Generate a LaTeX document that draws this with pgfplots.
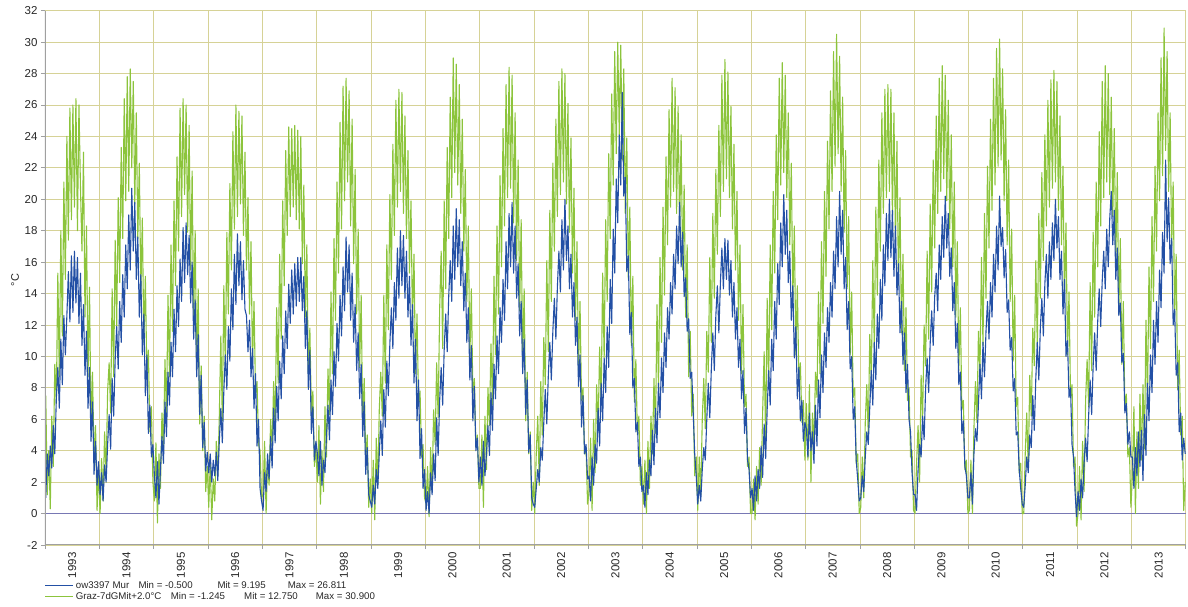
\documentclass[border=0pt]{standalone}
\usepackage{fontspec}
\setmainfont{Liberation Sans}
\usepackage{pgfplots}
\pgfplotsset{compat=1.18}
\definecolor{gridc}{RGB}{214,210,150}
\definecolor{serblue}{RGB}{35,80,165}
\definecolor{sergreen}{RGB}{140,196,60}
\definecolor{zeroc}{RGB}{120,120,180}
\definecolor{axc}{RGB}{160,160,160}
\definecolor{txt}{RGB}{40,40,40}
\begin{document}
\begin{tikzpicture}
\path (-45pt,-62pt) rectangle (1143pt,545pt);
\begin{axis}[
  at={(0pt,0pt)}, anchor=south west,
  scale only axis, width=1141pt, height=534.3pt,
  xmin=1993, xmax=2014, ymin=-2, ymax=32,
  xtick={1993,...,2014},
  x tick label as interval,
  xticklabels={1993,1994,1995,1996,1997,1998,1999,2000,2001,2002,2003,2004,2005,2006,2007,2008,2009,2010,2011,2012,2013},
  ytick={-2,0,...,32},
  grid=major, grid style={gridc, line width=0.8pt},
  axis line style={draw=none},
  tick align=outside, major tick length=4pt,
  tick style={axc, line width=0.8pt},
  xtick pos=bottom, ytick pos=left,
  ticklabel style={font=\fontsize{11.5}{13}\selectfont, text=txt},
  xticklabel style={rotate=90, anchor=east},
  /pgf/number format/assume math mode=true,
]
\draw[zeroc, line width=0.8pt] (axis cs:1993,0) -- (axis cs:2014,0);
\addplot[sergreen, line width=1.1pt, line join=round, mark=none] table[header=false, row sep=\\, x expr={1993+(\coordindex+0.5)/36}, y index=0] {
7.5\\ 1.2\\ 4.0\\ 0.3\\ 6.2\\ 3.0\\ 9.5\\ 7.0\\ 15.3\\ 8.7\\ 18.0\\ 11.3\\ 21.1\\ 14.9\\ 24.0\\ 17.4\\ 25.8\\ 18.7\\ 26.0\\ 19.5\\ 26.4\\ 18.0\\ 26.0\\ 20.8\\ 16.7\\ 23.0\\ 12.5\\ 18.3\\ 8.7\\ 14.4\\ 5.3\\ 9.0\\ 3.2\\ 5.6\\ 0.2\\ 2.8\\
0.0\\ 3.5\\ 0.8\\ 5.2\\ 2.6\\ 7.8\\ 9.6\\ 6.4\\ 14.3\\ 8.7\\ 17.4\\ 11.9\\ 20.1\\ 14.7\\ 23.3\\ 17.5\\ 26.4\\ 19.9\\ 27.8\\ 20.5\\ 28.3\\ 22.0\\ 27.5\\ 19.7\\ 25.5\\ 17.5\\ 22.3\\ 14.1\\ 18.8\\ 10.9\\ 15.1\\ 8.8\\ 10.4\\ 5.2\\ 6.8\\ 2.0\\
0.8\\ 4.5\\ -0.6\\ 3.8\\ 1.6\\ 6.4\\ 4.2\\ 9.8\\ 6.1\\ 13.9\\ 8.7\\ 17.1\\ 11.6\\ 19.9\\ 14.5\\ 22.7\\ 16.7\\ 25.8\\ 18.9\\ 26.4\\ 20.3\\ 26.0\\ 17.9\\ 24.7\\ 15.5\\ 21.8\\ 12.3\\ 18.0\\ 9.1\\ 14.3\\ 5.7\\ 9.4\\ 4.0\\ 6.2\\ 1.4\\ 3.0\\
0.4\\ 3.2\\ -0.4\\ 2.2\\ 0.8\\ 4.6\\ 2.4\\ 6.2\\ 11.3\\ 5.9\\ 14.5\\ 9.3\\ 17.9\\ 12.7\\ 21.0\\ 15.5\\ 24.3\\ 18.1\\ 26.0\\ 18.9\\ 25.6\\ 19.7\\ 25.3\\ 17.7\\ 23.0\\ 15.5\\ 20.1\\ 12.7\\ 17.3\\ 9.5\\ 13.5\\ 7.6\\ 8.4\\ 4.4\\ 4.0\\ 1.0\\
1.2\\ 4.6\\ 0.0\\ 3.4\\ 1.8\\ 6.0\\ 4.2\\ 8.4\\ 5.5\\ 13.1\\ 8.3\\ 16.5\\ 11.1\\ 19.9\\ 14.5\\ 23.1\\ 17.7\\ 24.6\\ 18.9\\ 24.5\\ 19.5\\ 24.7\\ 18.7\\ 24.4\\ 18.1\\ 24.0\\ 15.9\\ 20.9\\ 12.5\\ 17.1\\ 8.7\\ 11.8\\ 6.4\\ 7.8\\ 3.0\\ 4.2\\
2.0\\ 5.6\\ 0.6\\ 4.0\\ 1.4\\ 6.8\\ 3.6\\ 9.2\\ 6.3\\ 14.1\\ 8.9\\ 17.5\\ 12.3\\ 21.1\\ 15.3\\ 24.9\\ 18.1\\ 27.2\\ 19.9\\ 27.7\\ 21.1\\ 26.9\\ 18.3\\ 25.1\\ 15.9\\ 21.9\\ 12.7\\ 18.1\\ 9.3\\ 13.9\\ 5.5\\ 8.6\\ 3.4\\ 5.0\\ 0.4\\ 2.2\\
0.0\\ 3.4\\ -0.4\\ 4.8\\ 1.8\\ 6.6\\ 9.0\\ 6.2\\ 13.9\\ 8.3\\ 17.1\\ 11.7\\ 20.3\\ 14.9\\ 23.5\\ 17.7\\ 26.3\\ 19.5\\ 27.0\\ 20.5\\ 26.8\\ 19.1\\ 25.3\\ 17.5\\ 23.1\\ 15.3\\ 19.9\\ 12.1\\ 16.5\\ 8.9\\ 12.7\\ 7.0\\ 7.8\\ 3.6\\ 4.4\\ 1.0\\
0.6\\ 3.0\\ -0.2\\ 4.2\\ 1.4\\ 6.6\\ 4.4\\ 9.6\\ 6.1\\ 13.0\\ 16.7\\ 10.5\\ 19.9\\ 14.3\\ 23.3\\ 17.5\\ 26.5\\ 20.1\\ 29.0\\ 21.7\\ 28.6\\ 20.9\\ 27.3\\ 19.1\\ 25.1\\ 16.7\\ 21.9\\ 13.5\\ 18.3\\ 9.9\\ 14.3\\ 7.6\\ 8.6\\ 4.2\\ 5.0\\ 1.6\\
1.6\\ 5.0\\ 0.4\\ 6.2\\ 2.8\\ 8.0\\ 5.6\\ 10.8\\ 6.9\\ 15.1\\ 10.1\\ 18.3\\ 12.7\\ 21.5\\ 15.7\\ 24.5\\ 18.3\\ 27.3\\ 20.1\\ 28.4\\ 20.7\\ 27.9\\ 18.5\\ 25.5\\ 16.1\\ 22.5\\ 12.9\\ 18.7\\ 9.5\\ 14.3\\ 5.9\\ 9.0\\ 3.8\\ 5.2\\ 0.2\\ 2.0\\
0.0\\ 3.8\\ 6.2\\ 1.8\\ 8.4\\ 5.0\\ 11.2\\ 8.2\\ 16.1\\ 10.3\\ 19.3\\ 13.5\\ 22.3\\ 16.7\\ 25.1\\ 18.9\\ 27.5\\ 20.3\\ 28.3\\ 21.1\\ 28.0\\ 19.7\\ 26.1\\ 17.9\\ 23.9\\ 15.3\\ 20.7\\ 12.3\\ 17.3\\ 9.1\\ 13.5\\ 7.2\\ 8.0\\ 3.8\\ 4.2\\ 0.6\\
1.4\\ 4.8\\ 0.2\\ 6.0\\ 2.6\\ 8.2\\ 5.4\\ 10.6\\ 7.1\\ 15.3\\ 9.9\\ 18.7\\ 13.5\\ 22.9\\ 17.5\\ 26.7\\ 20.9\\ 29.4\\ 22.9\\ 30.0\\ 24.1\\ 29.8\\ 22.5\\ 28.3\\ 19.1\\ 23.9\\ 14.9\\ 19.5\\ 10.7\\ 15.1\\ 7.1\\ 9.8\\ 5.0\\ 6.2\\ 1.8\\ 3.0\\
0.6\\ 3.4\\ 0.0\\ 4.6\\ 1.6\\ 6.2\\ 3.8\\ 8.6\\ 5.1\\ 13.3\\ 7.9\\ 16.3\\ 10.9\\ 19.5\\ 13.9\\ 22.7\\ 17.1\\ 25.7\\ 19.5\\ 27.7\\ 20.5\\ 27.1\\ 19.1\\ 25.9\\ 17.9\\ 24.1\\ 15.5\\ 20.9\\ 12.5\\ 17.1\\ 8.7\\ 11.6\\ 6.2\\ 7.6\\ 2.4\\ 3.6\\
0.2\\ 3.6\\ 1.2\\ 6.0\\ 8.6\\ 5.4\\ 11.6\\ 9.0\\ 16.3\\ 10.9\\ 19.1\\ 13.7\\ 21.9\\ 16.5\\ 24.7\\ 18.9\\ 27.9\\ 20.5\\ 28.9\\ 21.3\\ 28.1\\ 20.1\\ 25.9\\ 18.1\\ 23.5\\ 15.5\\ 20.5\\ 12.3\\ 17.1\\ 8.9\\ 13.3\\ 6.8\\ 7.6\\ 3.0\\ 3.6\\ 0.0\\
0.0\\ 2.2\\ -0.4\\ 3.0\\ 0.6\\ 4.2\\ 1.8\\ 6.4\\ 10.3\\ 4.5\\ 13.7\\ 8.1\\ 17.1\\ 11.7\\ 20.5\\ 15.3\\ 24.1\\ 18.7\\ 27.7\\ 20.9\\ 28.7\\ 21.7\\ 27.9\\ 20.1\\ 25.5\\ 17.1\\ 22.3\\ 13.5\\ 18.3\\ 10.1\\ 14.5\\ 8.4\\ 9.6\\ 5.8\\ 7.2\\ 3.4\\
7.0\\ 3.4\\ 8.2\\ 2.0\\ 6.4\\ 4.2\\ 9.0\\ 7.4\\ 14.1\\ 8.9\\ 17.3\\ 12.1\\ 20.5\\ 15.1\\ 23.7\\ 18.1\\ 26.9\\ 20.5\\ 29.4\\ 22.1\\ 30.5\\ 22.9\\ 29.1\\ 20.5\\ 26.5\\ 17.9\\ 23.1\\ 14.3\\ 18.9\\ 10.1\\ 14.1\\ 7.4\\ 8.0\\ 3.2\\ 3.8\\ 0.0\\
0.4\\ 3.6\\ 1.0\\ 5.8\\ 8.2\\ 5.0\\ 11.4\\ 8.6\\ 16.1\\ 10.5\\ 19.5\\ 13.9\\ 22.5\\ 16.7\\ 25.5\\ 19.1\\ 27.0\\ 20.1\\ 27.3\\ 20.5\\ 27.0\\ 18.9\\ 25.5\\ 17.3\\ 23.7\\ 14.5\\ 20.1\\ 11.5\\ 16.5\\ 9.1\\ 13.1\\ 7.2\\ 8.0\\ 3.6\\ 4.0\\ 0.2\\
0.0\\ 3.2\\ 5.6\\ 2.0\\ 8.8\\ 6.0\\ 12.0\\ 9.4\\ 16.7\\ 11.1\\ 19.7\\ 14.1\\ 22.5\\ 16.9\\ 25.3\\ 19.1\\ 27.7\\ 20.5\\ 28.5\\ 21.3\\ 27.9\\ 19.9\\ 26.3\\ 18.1\\ 24.1\\ 15.7\\ 21.1\\ 12.5\\ 17.3\\ 9.1\\ 13.1\\ 6.6\\ 7.2\\ 2.8\\ 3.4\\ 0.0\\
0.2\\ 3.4\\ 0.0\\ 5.4\\ 8.4\\ 5.8\\ 11.6\\ 9.0\\ 16.3\\ 10.7\\ 19.1\\ 13.7\\ 22.1\\ 16.9\\ 25.1\\ 19.3\\ 27.7\\ 20.9\\ 29.6\\ 22.1\\ 30.2\\ 22.5\\ 28.3\\ 19.9\\ 25.7\\ 17.1\\ 22.5\\ 13.5\\ 18.1\\ 9.7\\ 13.9\\ 6.8\\ 7.4\\ 2.6\\ 3.2\\ 0.0\\
0.0\\ 3.8\\ 6.4\\ 2.8\\ 8.8\\ 6.2\\ 11.8\\ 9.4\\ 16.1\\ 10.5\\ 19.1\\ 13.7\\ 21.7\\ 16.1\\ 24.1\\ 18.3\\ 26.3\\ 19.5\\ 27.6\\ 20.7\\ 28.2\\ 21.1\\ 27.5\\ 19.3\\ 25.3\\ 17.1\\ 22.1\\ 13.5\\ 18.5\\ 10.1\\ 14.1\\ 7.4\\ 8.2\\ 3.0\\ 3.6\\ -0.8\\
0.0\\ 3.0\\ -0.4\\ 4.6\\ 1.4\\ 7.2\\ 9.8\\ 6.8\\ 14.7\\ 9.1\\ 17.9\\ 12.5\\ 21.1\\ 15.7\\ 24.3\\ 18.3\\ 27.5\\ 20.1\\ 28.5\\ 21.1\\ 28.0\\ 20.3\\ 26.5\\ 18.9\\ 24.5\\ 16.1\\ 21.7\\ 12.7\\ 17.5\\ 9.5\\ 13.5\\ 6.8\\ 7.6\\ 3.6\\ 4.2\\ 0.4\\
2.4\\ 6.8\\ 0.0\\ 5.2\\ 1.6\\ 7.6\\ 3.4\\ 8.2\\ 4.1\\ 12.3\\ 7.1\\ 15.7\\ 10.5\\ 18.9\\ 13.5\\ 22.1\\ 16.7\\ 25.5\\ 19.9\\ 29.0\\ 21.5\\ 30.9\\ 23.1\\ 29.4\\ 20.5\\ 25.5\\ 16.9\\ 21.1\\ 12.5\\ 16.5\\ 7.9\\ 10.4\\ 5.0\\ 6.2\\ 0.2\\ 2.0\\
};
\addplot[serblue, line width=1.1pt, line join=round, mark=none] table[header=false, row sep=\\, x expr={1993+(\coordindex+0.5)/36}, y index=0] {
1.0\\ 3.8\\ 2.4\\ 4.3\\ 2.9\\ 5.6\\ 3.8\\ 7.3\\ 9.3\\ 6.7\\ 11.1\\ 8.2\\ 12.6\\ 10.1\\ 12.6\\ 15.4\\ 12.2\\ 16.4\\ 12.8\\ 16.7\\ 13.4\\ 16.3\\ 12.1\\ 15.3\\ 10.7\\ 13.3\\ 8.8\\ 11.6\\ 6.7\\ 9.3\\ 4.6\\ 7.1\\ 2.5\\ 4.6\\ 1.8\\ 3.3\\
1.2\\ 2.6\\ 0.8\\ 3.1\\ 2.0\\ 4.4\\ 6.3\\ 4.1\\ 8.6\\ 6.2\\ 9.8\\ 11.9\\ 9.2\\ 13.5\\ 10.9\\ 15.2\\ 12.5\\ 17.1\\ 14.3\\ 19.0\\ 15.5\\ 20.7\\ 16.7\\ 19.8\\ 14.9\\ 17.6\\ 12.5\\ 15.2\\ 10.1\\ 12.7\\ 7.5\\ 10.1\\ 5.1\\ 6.9\\ 3.6\\ 4.4\\
2.4\\ 1.0\\ 3.3\\ 0.6\\ 2.8\\ 4.9\\ 3.2\\ 7.1\\ 4.9\\ 9.0\\ 6.9\\ 10.9\\ 8.7\\ 13.0\\ 10.3\\ 14.5\\ 11.9\\ 16.2\\ 13.5\\ 18.2\\ 14.7\\ 18.5\\ 15.2\\ 17.7\\ 13.4\\ 16.0\\ 11.1\\ 13.6\\ 8.7\\ 11.4\\ 6.3\\ 8.8\\ 4.2\\ 5.8\\ 2.7\\ 3.9\\
2.6\\ 3.8\\ 2.0\\ 3.4\\ 2.4\\ 3.9\\ 2.1\\ 4.6\\ 6.7\\ 4.5\\ 7.8\\ 10.1\\ 7.9\\ 11.9\\ 9.7\\ 14.3\\ 11.7\\ 16.5\\ 13.3\\ 17.8\\ 14.5\\ 17.3\\ 13.6\\ 16.1\\ 13.0\\ 12.6\\ 10.3\\ 12.3\\ 8.7\\ 10.5\\ 6.7\\ 8.9\\ 4.3\\ 6.0\\ 1.6\\ 0.8\\
0.2\\ 2.6\\ 1.4\\ 3.8\\ 2.2\\ 4.9\\ 2.9\\ 6.7\\ 4.5\\ 8.1\\ 5.9\\ 9.7\\ 7.3\\ 11.3\\ 8.9\\ 12.9\\ 10.5\\ 14.6\\ 12.1\\ 15.5\\ 12.7\\ 15.9\\ 13.2\\ 16.3\\ 13.5\\ 16.3\\ 12.9\\ 15.1\\ 10.5\\ 12.9\\ 7.9\\ 10.4\\ 5.1\\ 6.8\\ 3.4\\ 4.6\\
3.8\\ 2.4\\ 4.6\\ 1.8\\ 3.4\\ 2.6\\ 4.9\\ 6.9\\ 4.7\\ 8.5\\ 6.3\\ 10.3\\ 8.1\\ 12.1\\ 9.7\\ 13.9\\ 11.3\\ 15.7\\ 12.9\\ 17.6\\ 14.1\\ 17.1\\ 12.3\\ 15.3\\ 10.9\\ 13.3\\ 9.1\\ 11.5\\ 7.3\\ 9.5\\ 4.9\\ 7.1\\ 2.5\\ 4.2\\ 1.2\\ 0.8\\
0.4\\ 1.8\\ 0.6\\ 2.8\\ 1.6\\ 3.8\\ 5.9\\ 3.7\\ 7.9\\ 5.5\\ 9.7\\ 7.5\\ 10.8\\ 13.1\\ 10.5\\ 14.7\\ 12.3\\ 16.9\\ 13.7\\ 18.0\\ 14.5\\ 17.7\\ 13.7\\ 16.7\\ 12.5\\ 15.1\\ 10.7\\ 13.3\\ 8.3\\ 11.1\\ 5.9\\ 8.5\\ 3.5\\ 5.4\\ 1.6\\ 2.8\\
0.2\\ 1.4\\ 0.0\\ 2.6\\ 1.2\\ 3.8\\ 2.1\\ 6.1\\ 3.7\\ 7.2\\ 9.3\\ 6.9\\ 10.4\\ 12.7\\ 10.3\\ 13.8\\ 16.1\\ 13.5\\ 18.3\\ 14.9\\ 19.4\\ 15.7\\ 18.7\\ 14.5\\ 17.3\\ 12.9\\ 15.3\\ 10.9\\ 13.1\\ 8.5\\ 10.7\\ 5.9\\ 8.1\\ 4.0\\ 4.8\\ 2.0\\
3.6\\ 1.8\\ 4.6\\ 2.4\\ 3.8\\ 5.6\\ 3.7\\ 7.7\\ 5.3\\ 9.5\\ 7.3\\ 11.3\\ 8.9\\ 13.1\\ 10.9\\ 14.9\\ 12.3\\ 17.3\\ 14.3\\ 19.1\\ 15.7\\ 19.8\\ 15.3\\ 18.3\\ 13.7\\ 15.9\\ 11.3\\ 13.5\\ 8.9\\ 11.1\\ 6.3\\ 8.5\\ 3.9\\ 5.0\\ 1.0\\ 0.6\\
0.4\\ 1.6\\ 2.8\\ 2.0\\ 4.2\\ 3.4\\ 5.8\\ 7.9\\ 5.7\\ 8.8\\ 10.9\\ 8.5\\ 11.6\\ 13.7\\ 11.1\\ 14.4\\ 16.7\\ 14.1\\ 18.7\\ 15.5\\ 20.0\\ 16.1\\ 18.3\\ 14.3\\ 16.5\\ 12.5\\ 14.7\\ 10.7\\ 12.5\\ 8.1\\ 10.1\\ 5.5\\ 7.5\\ 3.8\\ 4.4\\ 2.2\\
2.4\\ 0.8\\ 3.6\\ 1.8\\ 4.4\\ 3.2\\ 6.7\\ 4.3\\ 8.3\\ 5.9\\ 9.9\\ 7.7\\ 11.9\\ 9.3\\ 14.9\\ 12.1\\ 18.1\\ 15.3\\ 21.3\\ 18.5\\ 24.1\\ 20.9\\ 26.8\\ 20.2\\ 21.4\\ 15.4\\ 16.4\\ 11.4\\ 12.8\\ 8.0\\ 8.6\\ 5.2\\ 5.8\\ 3.0\\ 3.6\\ 1.4\\
1.8\\ 0.4\\ 2.6\\ 1.2\\ 3.4\\ 2.4\\ 5.3\\ 3.1\\ 6.7\\ 4.5\\ 8.3\\ 6.1\\ 9.9\\ 7.7\\ 11.5\\ 9.3\\ 13.1\\ 11.1\\ 14.7\\ 12.7\\ 16.5\\ 14.3\\ 18.3\\ 15.9\\ 19.8\\ 15.7\\ 17.9\\ 13.8\\ 15.0\\ 11.6\\ 12.4\\ 8.6\\ 9.0\\ 6.4\\ 3.8\\ 2.4\\
0.6\\ 1.8\\ 0.8\\ 2.8\\ 4.2\\ 3.4\\ 6.0\\ 8.3\\ 6.1\\ 9.2\\ 11.5\\ 9.1\\ 12.6\\ 14.5\\ 11.5\\ 14.6\\ 16.9\\ 14.3\\ 17.5\\ 14.9\\ 17.4\\ 13.9\\ 16.1\\ 12.5\\ 14.7\\ 11.1\\ 13.1\\ 9.3\\ 11.1\\ 7.3\\ 9.1\\ 5.1\\ 6.7\\ 3.4\\ 2.8\\ 1.0\\
1.6\\ 0.2\\ 2.4\\ 0.8\\ 2.8\\ 1.6\\ 4.3\\ 2.3\\ 5.7\\ 3.5\\ 6.6\\ 9.1\\ 6.9\\ 11.1\\ 9.1\\ 13.5\\ 11.1\\ 15.9\\ 13.3\\ 18.5\\ 15.7\\ 20.3\\ 16.5\\ 19.3\\ 14.7\\ 16.7\\ 12.3\\ 14.5\\ 9.9\\ 11.9\\ 7.3\\ 9.3\\ 5.9\\ 7.2\\ 4.6\\ 5.8\\
5.4\\ 3.6\\ 6.4\\ 4.0\\ 5.2\\ 3.2\\ 6.9\\ 4.3\\ 8.5\\ 6.1\\ 10.1\\ 7.7\\ 11.5\\ 9.3\\ 13.1\\ 10.9\\ 14.7\\ 12.5\\ 16.7\\ 14.3\\ 18.9\\ 15.7\\ 20.5\\ 16.5\\ 19.3\\ 14.3\\ 16.3\\ 11.7\\ 13.5\\ 9.2\\ 10.0\\ 6.0\\ 6.8\\ 3.4\\ 2.2\\ 0.8\\
1.0\\ 2.4\\ 1.4\\ 3.6\\ 5.2\\ 4.4\\ 6.8\\ 9.1\\ 6.9\\ 10.9\\ 8.5\\ 12.7\\ 10.5\\ 14.9\\ 12.3\\ 17.1\\ 14.5\\ 19.1\\ 16.1\\ 20.0\\ 16.3\\ 19.3\\ 15.1\\ 18.3\\ 13.9\\ 15.9\\ 11.5\\ 13.5\\ 9.5\\ 11.5\\ 7.7\\ 9.5\\ 6.0\\ 5.2\\ 2.6\\ 1.2\\
1.2\\ 0.2\\ 2.8\\ 4.4\\ 3.6\\ 6.2\\ 4.7\\ 8.0\\ 9.9\\ 7.7\\ 10.8\\ 12.9\\ 10.7\\ 13.8\\ 15.3\\ 12.9\\ 17.1\\ 14.9\\ 18.9\\ 16.3\\ 20.2\\ 16.9\\ 19.1\\ 15.1\\ 16.9\\ 12.9\\ 14.7\\ 10.5\\ 12.1\\ 8.2\\ 9.0\\ 5.1\\ 5.9\\ 3.0\\ 2.4\\ 1.0\\
1.0\\ 2.6\\ 0.6\\ 3.8\\ 5.4\\ 4.6\\ 7.0\\ 9.5\\ 7.3\\ 10.9\\ 8.7\\ 11.6\\ 13.5\\ 11.1\\ 14.7\\ 12.5\\ 16.5\\ 14.1\\ 18.3\\ 15.5\\ 20.2\\ 17.0\\ 18.2\\ 15.0\\ 16.8\\ 12.8\\ 13.6\\ 10.4\\ 11.2\\ 7.8\\ 8.6\\ 5.0\\ 5.2\\ 2.8\\ 1.6\\ 0.6\\
0.4\\ 1.8\\ 3.6\\ 2.6\\ 5.0\\ 4.2\\ 7.5\\ 5.3\\ 8.6\\ 10.9\\ 8.5\\ 11.8\\ 13.7\\ 11.3\\ 14.6\\ 16.5\\ 13.7\\ 17.3\\ 14.9\\ 18.5\\ 16.1\\ 20.0\\ 16.9\\ 18.9\\ 14.9\\ 16.7\\ 12.7\\ 14.9\\ 10.0\\ 11.0\\ 7.4\\ 8.0\\ 4.4\\ 3.6\\ 1.4\\ -0.2\\
1.4\\ 0.2\\ 2.2\\ 1.0\\ 3.2\\ 4.8\\ 3.3\\ 6.2\\ 8.5\\ 6.3\\ 9.4\\ 11.5\\ 9.1\\ 12.2\\ 14.3\\ 11.9\\ 14.8\\ 16.7\\ 14.3\\ 18.1\\ 15.7\\ 18.8\\ 20.5\\ 17.1\\ 19.3\\ 14.9\\ 16.9\\ 12.6\\ 13.4\\ 9.6\\ 10.2\\ 6.4\\ 7.0\\ 4.4\\ 5.2\\ 3.6\\
3.6\\ 1.6\\ 4.2\\ 2.4\\ 5.2\\ 3.0\\ 5.3\\ 2.1\\ 6.3\\ 3.7\\ 8.3\\ 5.9\\ 10.1\\ 7.7\\ 12.3\\ 9.5\\ 13.5\\ 10.9\\ 15.5\\ 13.1\\ 17.9\\ 15.3\\ 22.5\\ 17.3\\ 20.1\\ 15.9\\ 17.5\\ 12.0\\ 13.0\\ 8.8\\ 9.6\\ 5.2\\ 6.4\\ 3.4\\ 4.8\\ 3.8\\
};
\draw[axc, line width=1.6pt] (axis description cs:0,0) -- (axis description cs:0,1);
\draw[axc, line width=1.6pt] (axis description cs:0,0) -- (axis description cs:1,0);
\end{axis}
\node[rotate=90, font=\fontsize{11}{13}\selectfont, text=txt] at (-30pt,265pt) {°C};
\begin{scope}[every node/.style={anchor=west, inner sep=0pt, font=\fontsize{9.7}{11}\selectfont, text=txt}]
\draw[serblue, line width=0.8pt] (0pt,-40pt) -- (28pt,-40pt);
\node at (30.7pt,-40pt) {ow3397 Mur};
\node at (93.3pt,-40pt) {Min = -0.500};
\node at (172.3pt,-40pt) {Mit = 9.195};
\node at (242.7pt,-40pt) {Max = 26.811};
\draw[sergreen, line width=0.8pt] (0pt,-51pt) -- (28pt,-51pt);
\node at (30.7pt,-51pt) {Graz-7dGMit+2.0°C};
\node at (125.7pt,-51pt) {Min = -1.245};
\node at (199pt,-51pt) {Mit = 12.750};
\node at (270.7pt,-51pt) {Max = 30.900};
\end{scope}
\end{tikzpicture}
\end{document}
